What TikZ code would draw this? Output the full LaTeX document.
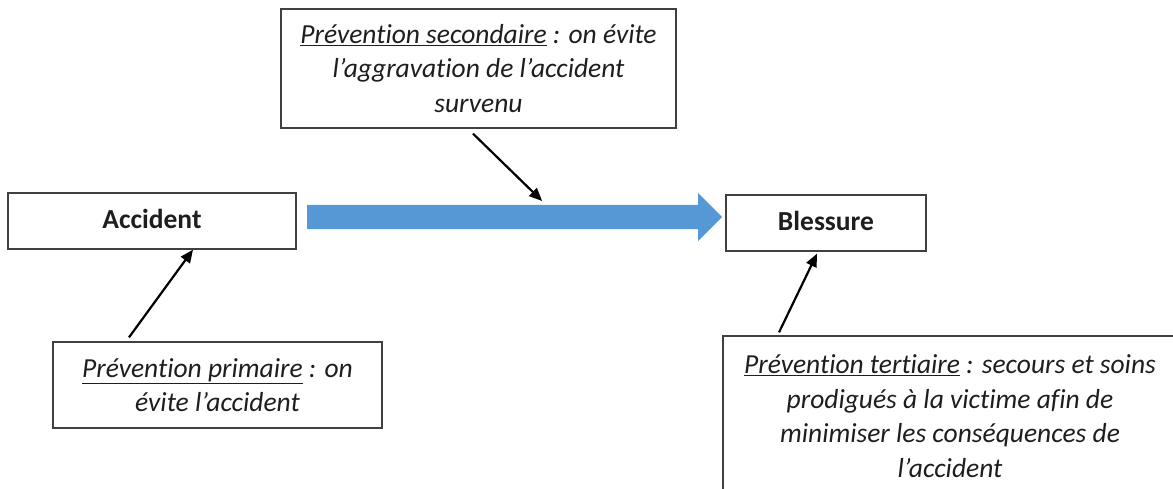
\documentclass[tikz,border=0pt]{standalone}
\usepackage{fontspec}
\setmainfont{Carlito}[RawFeature=-liga]
\usetikzlibrary{arrows.meta,shapes.arrows}
\definecolor{arrowblue}{RGB}{86,151,213}
\definecolor{boxline}{RGB}{64,64,64}
\definecolor{txt}{RGB}{30,30,30}
\tikzset{
  box/.style={draw=boxline, line width=1.3pt, align=center, inner sep=0pt,
    text=txt, font=\fontsize{27.5}{34.5}\selectfont},
  conn/.style={-{Triangle[length=13pt,width=11pt]}, line width=2.2pt, black},
}
\begin{document}
\begin{tikzpicture}[x=1pt,y=-1pt]
\useasboundingbox (0,0) rectangle (1173,488);

\node[box, minimum width=395pt, minimum height=119pt] (sec) at (478.5,68.5)
  {\itshape\underline{Prévention secondaire} : on évite\\ \itshape l’aggravation de l’accident\\ \itshape survenu};

\node[box, minimum width=288pt, minimum height=56pt] (acc) at (152,221)
  {\raisebox{4pt}{\bfseries Accident}};

\node[box, minimum width=200pt, minimum height=56pt] (bles) at (826,223)
  {\raisebox{4pt}{\bfseries Blessure}};

\node[box, minimum width=329pt, minimum height=86pt] (prim) at (217.5,385)
  {\itshape\underline{Prévention primaire} : on\\ \itshape évite l’accident};

\node[box, minimum width=454pt, minimum height=160pt] (ter) at (950,416)
  {\itshape\underline{Prévention tertiaire} : secours et soins\\ \itshape prodigués à la victime afin de\\ \itshape minimiser les conséquences de\\ \itshape l’accident};

\node[single arrow, fill=arrowblue, draw=none, minimum height=415pt,
  inner xsep=0pt, inner ysep=12pt, single arrow head extend=12pt,
  single arrow head indent=0pt, anchor=west] (flow) at (307,217) {};

\draw[conn] ([xshift=-88.5pt,yshift=4pt]prim.north) -- ([xshift=41pt]acc.south);
\draw[conn] ([xshift=-5.5pt,yshift=-5pt]sec.south) -- ([xshift=33.5pt,yshift=16pt]flow.center);
\draw[conn] ([xshift=-171pt,yshift=3pt]ter.north) -- ([xshift=-9pt,yshift=-2pt]bles.south);
\end{tikzpicture}
\end{document}
